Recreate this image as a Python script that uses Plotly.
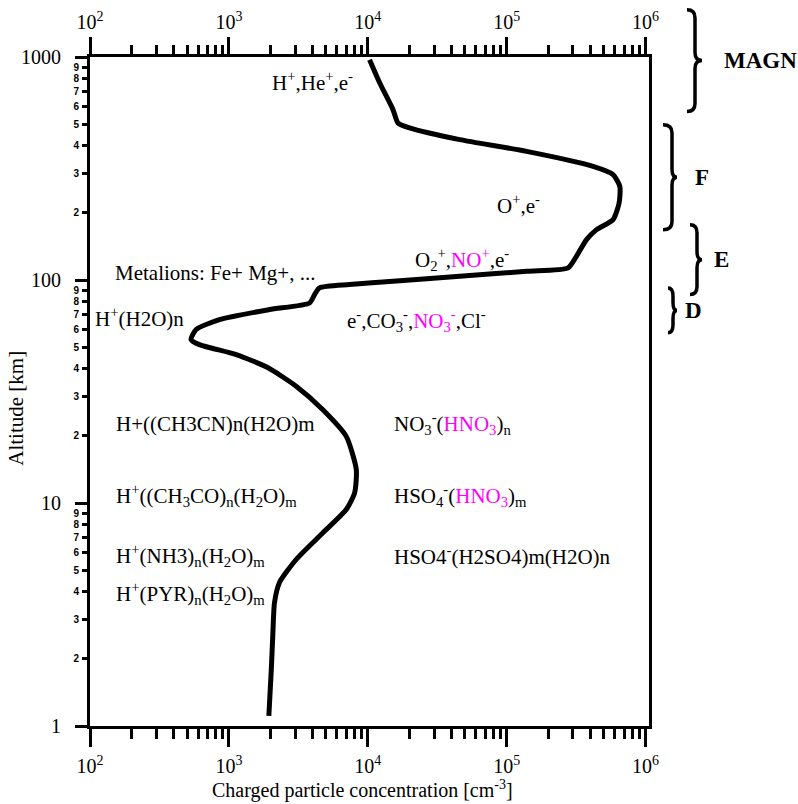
import numpy as np
import plotly.graph_objects as go

# ---------------- data ----------------
altitude_km = [1.11, 1.79, 2.53, 3.57, 4.39, 5.58, 7.35, 9.35, 11.1, 14.1, 19.9, 26.2,
               33.4, 40.5, 46.3, 51.3, 54.1, 60.0, 66.4, 73.7, 78.9, 86.0, 92.2, 95.4,
               98.7, 103.9, 109.4, 113.3, 127.7, 151.7, 168.2, 186.6, 222.3, 263.0,
               296.9, 323.3, 377.5, 425.9, 480.7, 506.0, 580.5, 764.5, 972.0]
concentration_cm3 = [1940, 2020, 2070, 2130, 2310, 3050, 4750, 7000, 8040, 8270, 7000, 4750,
                     3050, 1900, 1130, 613, 534, 581, 855, 1960, 3810, 4140, 4490, 7390,
                     15200, 45900, 139000, 277000, 318000, 376000, 444000, 584000, 646000, 653000,
                     584000, 419000, 139000, 45900, 20000, 16500, 15200, 12200, 10300]

x_major_vals = [1e2, 1e3, 1e4, 1e5, 1e6]
x_major_text = ["10<sup>2</sup>", "10<sup>3</sup>", "10<sup>4</sup>", "10<sup>5</sup>", "10<sup>6</sup>"]
y_major_vals = [1, 10, 100, 1000]
y_major_text = ["1", "10", "100", "1000"]
y_minor_digits = [2, 3, 4, 5, 6, 7, 8, 9]

layer_names = ["MAGN", "F", "E", "D"]
layer_top_km = [1630, 497, 177, 92]
layer_bottom_km = [570, 168, 86, 58]

MAG = "#ff00ff"
def mg(s):
    return "<span style='color:%s'>%s</span>" % (MAG, s)

species_labels = [
    "H<sup>+</sup>,He<sup>+</sup>,e<sup>-</sup>",
    "O<sup>+</sup>,e<sup>-</sup>",
    "O<sub>2</sub><sup>+</sup>," + mg("NO<sup>+</sup>") + ",e<sup>-</sup>",
    "Metalions: Fe+ Mg+, ...",
    "H<sup>+</sup>(H2O)n",
    "e<sup>-</sup>,CO<sub>3</sub><sup>-</sup>," + mg("NO<sub>3</sub><sup>-</sup>") + ",Cl<sup>-</sup>",
    "H+((CH3CN)n(H2O)m",
    "NO<sub>3</sub><sup>-</sup>(" + mg("HNO<sub>3</sub>") + ")<sub>n</sub>",
    "H<sup>+</sup>((CH<sub>3</sub>CO)<sub>n</sub>(H<sub>2</sub>O)<sub>m</sub>",
    "HSO<sub>4</sub><sup>-</sup>(" + mg("HNO<sub>3</sub>") + ")<sub>m</sub>",
    "H<sup>+</sup>(NH3)<sub>n</sub>(H<sub>2</sub>O)<sub>m</sub>",
    "HSO4<sup>-</sup>(H2SO4)m(H2O)n",
    "H<sup>+</sup>(PYR)<sub>n</sub>(H<sub>2</sub>O)<sub>m</sub>",
]
# left edge concentration, vertical centre altitude
label_x_cm3 = [1980, 83000, 21300, 146, 105, 6800, 149, 15000, 149, 15000, 149, 15000, 149]
label_y_km = [775, 218, 124, 108, 68, 65.5, 22.7, 22.7, 10.8, 10.8, 5.82, 5.82, 3.94]

# ---------------- figure ----------------
fig = go.Figure()
fig.add_trace(go.Scatter(x=concentration_cm3, y=altitude_km, mode="lines",
                         line=dict(color="black", width=5, shape="spline", smoothing=0.6),
                         hoverinfo="skip"))
fig.add_trace(go.Scatter(x=concentration_cm3, y=altitude_km, mode="lines", xaxis="x2", yaxis="y2",
                         line=dict(color="rgba(0,0,0,0)", width=0), hoverinfo="skip"))

minor_x = [d * 10 ** k for k in range(2, 6) for d in y_minor_digits]
minor_y = [d * 10 ** k for k in range(0, 3) for d in y_minor_digits]
minor_y_text = [str(d) for k in range(0, 3) for d in y_minor_digits]

xr = [2, 6.025]
yr = [0, 3]
serif = "Liberation Serif"

fig.update_layout(
    width=798, height=804,
    margin=dict(l=90, r=149, t=57, b=78, autoexpand=False),
    plot_bgcolor="white", paper_bgcolor="white", showlegend=False,
    font=dict(family=serif, color="black", size=20),
    xaxis=dict(type="log", range=xr, tickvals=x_major_vals, ticktext=x_major_text,
               ticks="outside", ticklen=18, tickwidth=3, tickcolor="black",
               minor=dict(tickvals=minor_x, ticks="outside", ticklen=10, tickwidth=3, tickcolor="black"),
               showline=True, linewidth=3, linecolor="black", mirror=True, showgrid=False,
               zeroline=False, tickfont=dict(family=serif, size=20), ticklabelstandoff=2,
               automargin=False),
    xaxis2=dict(type="log", range=xr, overlaying="x", side="top", tickvals=x_major_vals,
                ticktext=x_major_text, ticks="outside", ticklen=17, tickwidth=3, tickcolor="black",
                minor=dict(tickvals=minor_x, ticks="outside", ticklen=9, tickwidth=3, tickcolor="black"),
                showline=True, linewidth=3, linecolor="black", showgrid=False, zeroline=False,
                tickfont=dict(family=serif, size=20), ticklabelstandoff=0, automargin=False),
    yaxis=dict(type="log", range=yr, tickvals=y_major_vals, ticktext=y_major_text,
               ticks="outside", ticklen=12, tickwidth=3, tickcolor="black",
               showline=True, linewidth=3, linecolor="black", mirror=True, showgrid=False,
               zeroline=False, tickfont=dict(family=serif, size=20), ticklabelstandoff=10,
               automargin=False),
    yaxis2=dict(type="log", range=yr, overlaying="y", side="left", tickvals=minor_y,
                ticktext=minor_y_text, ticks="outside", ticklen=7, tickwidth=3, tickcolor="black",
                showline=False, showgrid=False, zeroline=False, automargin=False,
                tickfont=dict(family="Liberation Sans", size=10, weight="bold"), ticklabelstandoff=1),
)

# species annotations
for txt, xv, yv in zip(species_labels, label_x_cm3, label_y_km):
    fig.add_annotation(x=np.log10(xv), y=np.log10(yv), xref="x", yref="y", text=txt,
                       showarrow=False, xanchor="left", yanchor="middle",
                       font=dict(family=serif, size=21, color="black"))

PW, PH = 559.0, 669.0

# axis titles
fig.add_annotation(x=-0.1315, y=0.475, xref="paper", yref="paper", text="Altitude [km]",
                   textangle=-90, showarrow=False, xanchor="center", yanchor="middle",
                   font=dict(family=serif, size=21, color="black"))
fig.add_annotation(x=(362 - 90.0) / PW, y=(726 - 804) / PH, xref="paper", yref="paper",
                   text="Charged particle concentration [cm<sup>-3</sup>]",
                   showarrow=False, xanchor="center", yanchor="bottom", yshift=0,
                   font=dict(family=serif, size=20, color="black"))

# layer braces
def px2paper(px):
    return (px - 90.0) / PW

brace_left_px = [687, 663, 690, 668]
brace_spine_px = [695, 672, 697, 673]
brace_tip_px = [702, 677, 702, 677]
label_left_px = [722, 693, 712, 683]
hook = 8.0 / PH

for name, top, bot, xl, xs, xt, lx in zip(layer_names, layer_top_km, layer_bottom_km,
                                           brace_left_px, brace_spine_px, brace_tip_px, label_left_px):
    yt = np.log10(top) / 3.0
    yb = np.log10(bot) / 3.0
    ym = 0.5 * (yt + yb)
    a, s, t = px2paper(xl), px2paper(xs), px2paper(xt)
    path = (f"M {a},{yt} Q {s},{yt} {s},{yt - hook} L {s},{ym + hook} "
            f"Q {s},{ym} {t},{ym} Q {s},{ym} {s},{ym - hook} L {s},{yb + hook} "
            f"Q {s},{yb} {a},{yb}")
    fig.add_shape(type="path", path=path, xref="paper", yref="paper",
                  line=dict(color="black", width=3.5))
    fig.add_annotation(x=px2paper(lx), y=ym, xref="paper", yref="paper", text="<b>%s</b>" % name,
                       showarrow=False, xanchor="left", yanchor="middle",
                       font=dict(family=serif, size=23, color="black"))

fig.write_html("out.html")
